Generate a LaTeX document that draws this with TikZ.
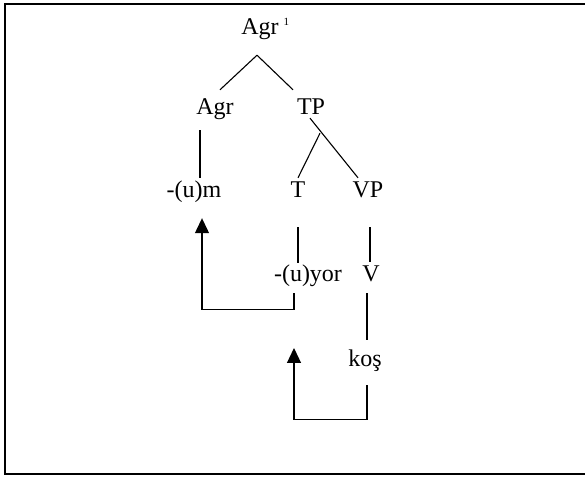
\documentclass[tikz,border=0pt]{standalone}
\usepackage{fontspec}
\setmainfont{Liberation Serif}
\usepackage{tikz}
\usetikzlibrary{calc, positioning, arrows.meta}
\tikzset{
  word/.style={font=\fontsize{24}{28}\selectfont, inner sep=0pt, anchor=base, text height=16pt, text depth=5pt},
  branch/.style={line width=1.1pt},
  move/.style={line width=1.2pt, -{Triangle[width=14pt,length=15pt]}}
}
\newcommand\barmark{\rlap{\hspace{5pt}\raisebox{9pt}{\fontsize{11}{11}\selectfont 1}}}

\begin{document}
\begin{tikzpicture}[x=1pt,y=1pt]
	\useasboundingbox (0,0) rectangle (585,476);
	\draw[line width=1.5pt] (585,472) -- (5,472) -- (5,2) -- (585,2);
	% labels
	\node[word] (agrbar) at (260,441) {Agr\barmark};
	\node[word] (agr) at (215,361) {Agr};
	\node[word] (tp) at (311,361) {TP};
	\node[word] (um) at (194,278) {-(u)m};
	\node[word] (t) at (298,278) {T};
	\node[word] (vp) at (368,278) {VP};
	\node[word] (yor) at (308,194) {-(u)yor};
	\node[word] (v) at (371,194) {V};
	\node[word] (kos) at (365,109) {koş};
	\coordinate (vtrace) at (294,128);
	% tree
	\draw[branch] ([xshift=-3pt,yshift=-15pt]agrbar.south) -- ([xshift=5pt,yshift=9pt]agr.north);
	\draw[branch] ([xshift=-3pt,yshift=-15pt]agrbar.south) -- ([xshift=-18pt,yshift=9pt]tp.north);
	\draw[branch] ([xshift=-15pt,yshift=-10pt]agr.south) -- ([xshift=6pt,yshift=4pt]um.north);
	\draw[branch] ([xshift=-1pt,yshift=2pt]tp.south) -- ([xshift=-10pt,yshift=4pt]vp.north);
	\draw[branch] ([xshift=9pt,yshift=-13pt]tp.south) -- ([yshift=4pt]t.north);
	\draw[branch] ([yshift=-24pt]t.south) -- ([xshift=-10pt,yshift=3pt]yor.north);
	\draw[branch] ([xshift=2pt,yshift=-24pt]vp.south) -- ([xshift=-1pt,yshift=4pt]v.north);
	\draw[branch] ([xshift=-4pt,yshift=-6pt]v.south) -- ([xshift=2pt,yshift=11pt]kos.north);
	% movement
	\draw[move] ([xshift=-14pt,yshift=-6pt]yor.south) -- ++(0,-16) -| ([xshift=8pt,yshift=-15pt]um.south);
	\draw[move] ([xshift=2pt,yshift=-13pt]kos.south) -- ++(0,-34) -| (vtrace);
\end{tikzpicture}
\end{document}
